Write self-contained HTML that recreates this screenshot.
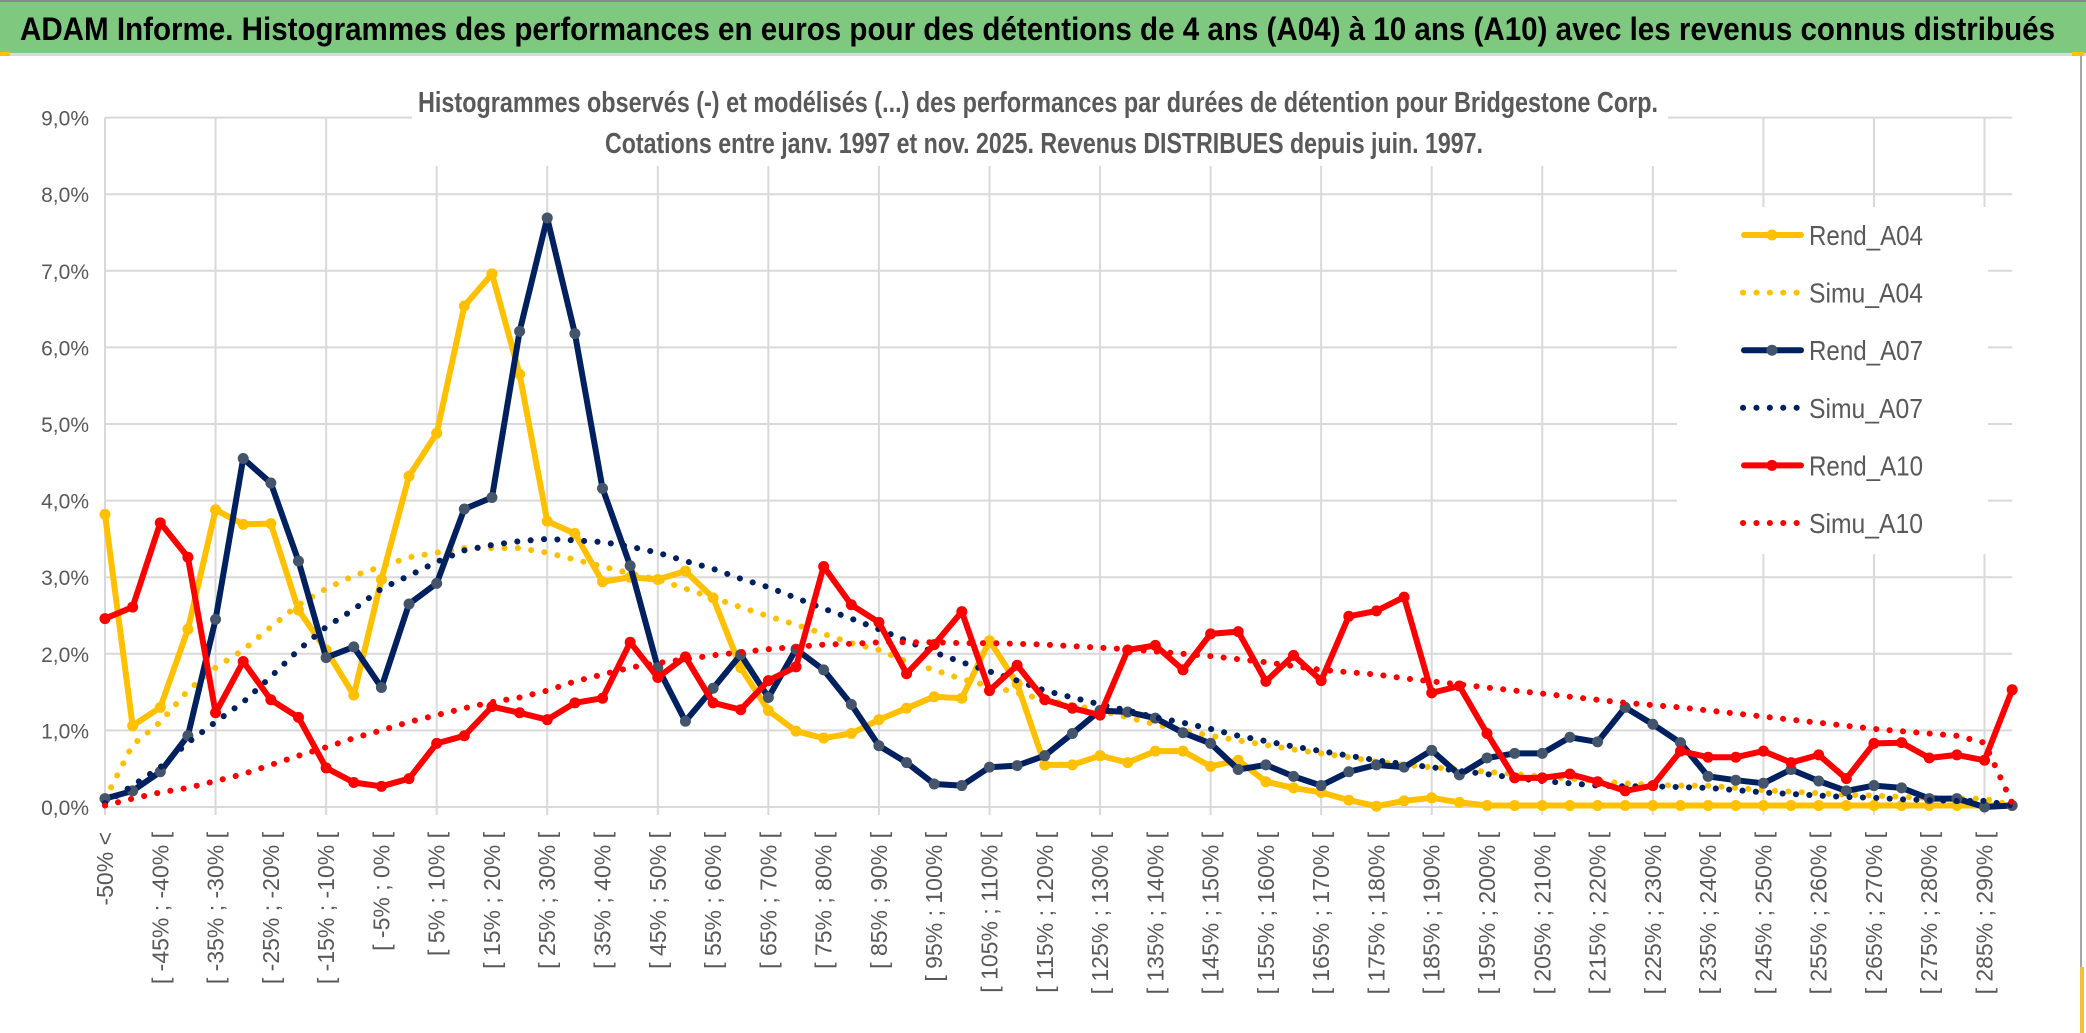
<!DOCTYPE html>
<html><head><meta charset="utf-8"><style>
html,body{margin:0;padding:0;background:#fff;}
svg{display:block;font-family:"Liberation Sans",sans-serif;}
</style></head><body>
<svg id="chart" width="2086" height="1033" viewBox="0 0 2086 1033" xmlns="http://www.w3.org/2000/svg">
<rect x="0" y="0" width="2086" height="1033" fill="#fff"/>
<rect x="0" y="0" width="2086" height="53" fill="#7ec97f"/>
<rect x="0" y="0" width="2086" height="2" fill="#8a8a8a"/>
<rect x="0" y="53" width="2086" height="3" fill="#d9d9d9"/>
<rect x="0" y="52" width="10" height="4" fill="#ffc000"/>
<rect x="2072" y="52" width="12" height="4" fill="#ffc000"/>
<rect x="2080" y="56" width="2" height="977" fill="#a6a6a6"/>
<rect x="2080" y="967" width="4" height="66" fill="#f0c040"/>
<text x="20" y="40" font-size="32" font-weight="bold" fill="#000" textLength="2035" lengthAdjust="spacingAndGlyphs">ADAM Informe. Histogrammes des performances en euros pour des détentions de 4 ans (A04) à 10 ans (A10) avec les revenus connus distribués</text>
<g id="grid"></g>
<rect x="412" y="70" width="1256" height="96" fill="#fff"/>
<text x="418" y="112" font-size="29" font-weight="bold" fill="#595959" textLength="1240" lengthAdjust="spacingAndGlyphs">Histogrammes observés (-) et modélisés (...) des performances par durées de détention pour Bridgestone Corp.</text>
<text x="605" y="153" font-size="29" font-weight="bold" fill="#595959" textLength="878" lengthAdjust="spacingAndGlyphs">Cotations entre janv. 1997 et nov. 2025. Revenus DISTRIBUES depuis juin. 1997.</text>
<g id="yaxis"></g>
<g id="xaxis"></g>
<rect x="1677" y="207" width="311" height="347" fill="#fff"/>
<g id="series"></g>
<g id="legend"></g>
</svg>
<script>
const rendA04 = [3.82,1.06,1.30,2.32,3.88,3.69,3.70,2.57,2.05,1.46, 2.97,4.32,4.88,6.54,6.96,5.65,3.73,3.57,2.94,3.00, 2.97,3.08,2.73,1.82,1.26,0.99,0.90,0.96,1.14,1.29, 1.44,1.42,2.17,1.61,0.55,0.55,0.67,0.58,0.73,0.73, 0.53,0.61,0.33,0.25,0.19,0.09,0.01,0.08,0.12,0.06, 0.02,0.02,0.02,0.02,0.02,0.02,0.02,0.02,0.02,0.02, 0.02,0.02,0.02,0.02,0.02,0.02,0.02,0.02,0.02,0.02];
const simuA04 = [0.10,0.81,1.11,1.52,1.82,2.05,2.35,2.64,2.85,3.02, 3.14,3.26,3.32,3.38,3.38,3.38,3.32,3.23,3.14,3.05, 2.97,2.85,2.73,2.61,2.49,2.38,2.26,2.14,2.05,1.90, 1.79,1.67,1.58,1.49,1.40,1.33,1.26,1.17,1.08,1.00, 0.93,0.87,0.81,0.75,0.70,0.65,0.59,0.55,0.52,0.49, 0.46,0.43,0.40,0.37,0.34,0.31,0.29,0.28,0.28,0.25, 0.22,0.20,0.18,0.16,0.15,0.13,0.12,0.11,0.11,0.02];
const rendA07 = [0.11,0.21,0.46,0.93,2.45,4.55,4.23,3.21,1.95,2.09, 1.56,2.65,2.92,3.89,4.04,6.21,7.69,6.18,4.16,3.15, 1.82,1.12,1.55,1.99,1.43,2.06,1.79,1.34,0.80,0.58, 0.30,0.28,0.52,0.54,0.67,0.96,1.26,1.24,1.16,0.97, 0.83,0.49,0.55,0.40,0.28,0.46,0.55,0.52,0.74,0.42, 0.64,0.70,0.70,0.91,0.85,1.30,1.08,0.84,0.40,0.35, 0.31,0.49,0.34,0.21,0.28,0.25,0.11,0.11,0.00,0.02];
const simuA07 = [0.05,0.28,0.52,0.84,1.11,1.37,1.70,2.05,2.35,2.58, 2.85,3.02,3.20,3.35,3.42,3.47,3.50,3.48,3.46,3.40, 3.32,3.21,3.11,2.98,2.87,2.73,2.59,2.46,2.32,2.17, 2.02,1.89,1.77,1.65,1.52,1.43,1.34,1.26,1.17,1.10, 1.02,0.93,0.86,0.79,0.73,0.67,0.61,0.56,0.52,0.47, 0.43,0.38,0.34,0.31,0.28,0.27,0.27,0.26,0.25,0.22, 0.19,0.17,0.15,0.13,0.12,0.10,0.09,0.08,0.08,0.02];
const rendA10 = [2.46,2.61,3.71,3.26,1.23,1.90,1.40,1.17,0.51,0.32, 0.27,0.37,0.83,0.93,1.31,1.23,1.14,1.36,1.42,2.15, 1.69,1.96,1.36,1.27,1.65,1.83,3.14,2.64,2.41,1.74, 2.12,2.55,1.52,1.85,1.40,1.29,1.20,2.05,2.11,1.79, 2.26,2.29,1.64,1.98,1.65,2.49,2.56,2.74,1.49,1.58, 0.96,0.38,0.38,0.43,0.33,0.21,0.28,0.73,0.65,0.65, 0.73,0.58,0.68,0.37,0.83,0.84,0.64,0.68,0.61,1.53];
const simuA10 = [0.02,0.11,0.19,0.25,0.34,0.43,0.55,0.67,0.78,0.90, 1.00,1.11,1.20,1.29,1.37,1.43,1.52,1.64,1.73,1.82, 1.88,1.93,1.98,2.02,2.06,2.09,2.12,2.13,2.15,2.15, 2.15,2.14,2.14,2.13,2.12,2.10,2.08,2.06,2.03,2.00, 1.97,1.93,1.89,1.84,1.79,1.76,1.73,1.68,1.64,1.60, 1.56,1.52,1.48,1.44,1.40,1.36,1.33,1.30,1.26,1.22, 1.18,1.14,1.10,1.06,1.02,0.99,0.96,0.93,0.84,0.05];
const yTicks = [0,1,2,3,4,5,6,7,8,9];
const yTickLabels = ["0,0%","1,0%","2,0%","3,0%","4,0%","5,0%","6,0%","7,0%","8,0%","9,0%"];
const categories = ["-50% <"];
for (let k = 1; k < 70; k++) categories.push("[ " + (-55 + 5*k) + "% ; " + (-50 + 5*k) + "% [");

const NS = "http://www.w3.org/2000/svg";
const X0 = 105, DX = 27.64, Y0 = 807, DY = 76.6;
function xs(i){ return X0 + i*DX; }
function ys(v){ return Y0 - v*DY; }
function mk(tag, attrs, parent){ const e = document.createElementNS(NS, tag); for (const k in attrs) e.setAttribute(k, attrs[k]); parent.appendChild(e); return e; }

const grid = document.getElementById('grid');
const xEnd = xs(categories.length - 1);
yTicks.forEach(t => {
  const l = mk('line', {x1: X0, x2: xEnd, y1: ys(t), y2: ys(t), stroke: '#d9d9d9', 'stroke-width': 2}, grid);
  
  
});
for (let i = 0; i < categories.length; i += 4) {
  const l = mk('line', {x1: xs(i), x2: xs(i), y1: ys(9), y2: Y0 + 8, stroke: '#d9d9d9', 'stroke-width': 2}, grid);
  
  
}

const yaxis = document.getElementById('yaxis');
yTicks.forEach((t, k) => {
  const tx = mk('text', {x: 89, y: ys(t) + 8, 'text-anchor': 'end', 'font-size': 21, fill: '#595959'}, yaxis);
  tx.textContent = yTickLabels[k];
  
  
});

const xaxis = document.getElementById('xaxis');
categories.forEach((c, i) => {
  if (i % 2) return;
  const tx = mk('text', {x: 0, y: 0, 'text-anchor': 'end', 'font-size': 23, fill: '#595959', transform: 'translate(' + (xs(i) + 8) + ',832) rotate(-90)'}, xaxis);
  tx.textContent = c;
  
  
});

const series = document.getElementById('series');
function pts(arr){ return arr.map((v, i) => xs(i).toFixed(1) + ',' + ys(v).toFixed(1)).join(' '); }
function dotted(arr, color, name){
  const p = mk('polyline', {points: pts(arr), fill: 'none', stroke: color, 'stroke-width': 6, 'stroke-dasharray': '0.1 13.3', 'stroke-linecap': 'round'}, series);
  
  
}
function solid(arr, color, mcolor, name){
  const g = mk('g', {}, series);
  
  
  const p = mk('polyline', {points: pts(arr), fill: 'none', stroke: color, 'stroke-width': 6, 'stroke-linejoin': 'round'}, g);
  
  
  arr.forEach((v, i) => {
    const c = mk('circle', {cx: xs(i), cy: ys(v), r: 5.5, fill: mcolor}, g);
    
    
  });
}
solid(rendA04, '#ffc000', '#ffc000', 'rend-a04');
dotted(simuA04, '#ffc000', 'simu-a04');
solid(rendA07, '#002060', '#44546a', 'rend-a07');
dotted(simuA07, '#002060', 'simu-a07');
solid(rendA10, '#ff0000', '#ff0000', 'rend-a10');
dotted(simuA10, '#ff0000', 'simu-a10');

const legend = document.getElementById('legend');
const legItems = [
  ['Rend_A04', '#ffc000', '#ffc000', false],
  ['Simu_A04', '#ffc000', null, true],
  ['Rend_A07', '#002060', '#44546a', false],
  ['Simu_A07', '#002060', null, true],
  ['Rend_A10', '#ff0000', '#ff0000', false],
  ['Simu_A10', '#ff0000', null, true]
];
legItems.forEach((it, k) => {
  const y = 235 + k*57.6;
  const g = mk('g', {}, legend);
  
  
  if (it[3]) {
    mk('line', {x1: 1743, x2: 1802, y1: y, y2: y, stroke: it[1], 'stroke-width': 6, 'stroke-dasharray': '0.1 13.3', 'stroke-linecap': 'round'}, g);
  } else {
    mk('line', {x1: 1744, x2: 1801, y1: y, y2: y, stroke: it[1], 'stroke-width': 6, 'stroke-linecap': 'round'}, g);
    mk('circle', {cx: 1772, cy: y, r: 5.5, fill: it[2]}, g);
  }
  const t = mk('text', {x: 1809, y: y + 10, 'font-size': 28, fill: '#595959', textLength: 114, lengthAdjust: 'spacingAndGlyphs'}, g);
  t.textContent = it[0];
  
  
});
</script>
</body></html>
